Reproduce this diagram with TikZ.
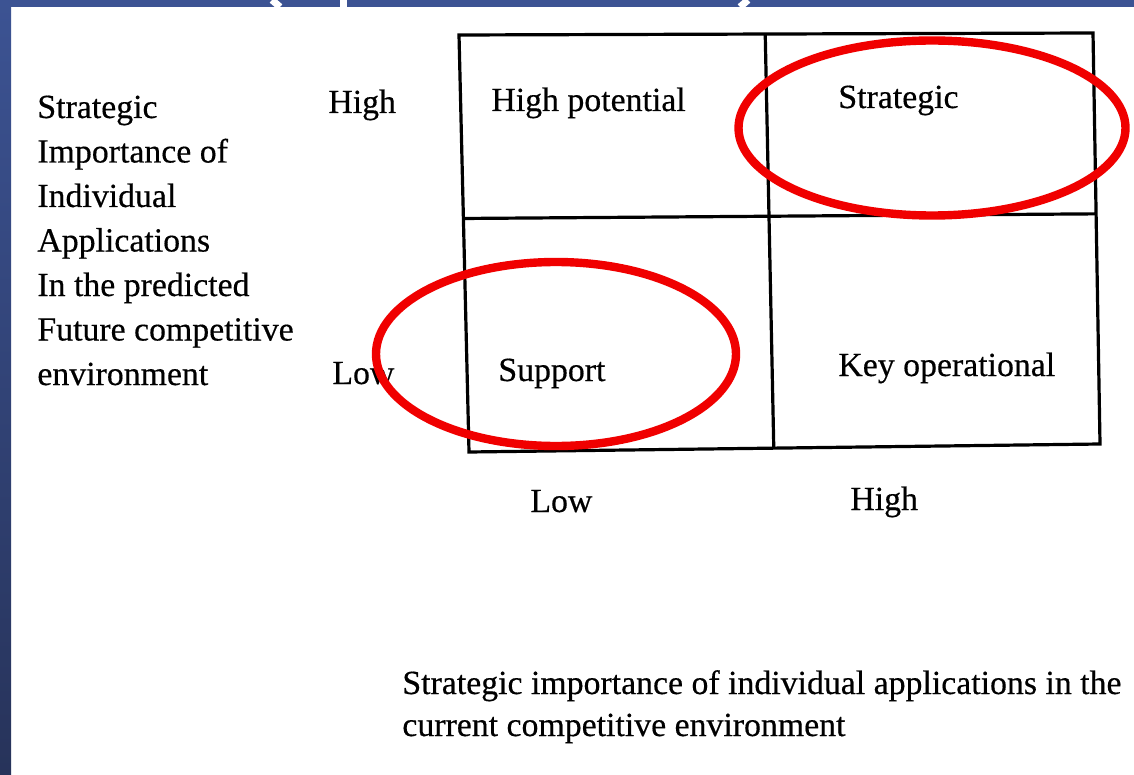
\documentclass[tikz,border=0pt]{standalone}
\usepackage{fontspec}
\setmainfont{Liberation Serif}[FakeBold=0.4]
\usepackage{tikz}
\usetikzlibrary{
    calc,
    positioning
}
\definecolor{slideblue}{RGB}{60,83,147}
\definecolor{slidedark}{RGB}{39,51,90}
\definecolor{ringred}{RGB}{240,0,0}

\begin{document}
\begin{tikzpicture}[
    x=0.5pt, y=-0.5pt,
    gridline/.style={line width=1.6pt, black, line join=miter},
    ring/.style={line width=4.2pt, draw=ringred},
    txt/.style={font=\fontsize{16.9}{21}\selectfont, inner sep=0pt, anchor=base west},
    frag/.style={white, line width=3.5pt}
]
\useasboundingbox (0,0) rectangle (1134,775);
\fill[white] (0,0) rectangle (1134,775);

% Slide frame
\shade[top color=slideblue, bottom color=slidedark] (0,0) rectangle (11,775);
\fill[slideblue] (0,0) rectangle (1134,7);

% Cut-off title
\draw[frag] (272,0) -- (280,7);
\draw[frag] (343,0) -- (343,7);
\draw[frag] (748,0) -- (740,7);

% Matrix corners
\coordinate (tl) at (459,35);
\coordinate (tr) at (1093,33);
\coordinate (br) at (1100,444);
\coordinate (bl) at (469,452);
\coordinate (tm) at ($(tl)!0.483!(tr)$);
\coordinate (bm) at ($(bl)!0.483!(br)$);
\coordinate (lm) at ($(tl)!0.44!(bl)$);
\coordinate (rm) at ($(tr)!0.44!(br)$);

% Matrix
\draw[gridline] (tl) -- (tr) -- (br) -- (bl) -- cycle;
\draw[gridline] (tm) -- (bm);
\draw[gridline] (lm) -- (rm);

% Cells
\node[txt] (highpot) at (491,111) {High potential};
\node[txt] (strat) at (838,108) {Strategic};
\node[txt] (support) at (498,381) {Support};
\node[txt] (keyop) at (838,376) {Key operational};

% Vertical axis
\foreach \word [count=\i] in {Strategic, Importance of, Individual, Applications, In the predicted, Future competitive, environment} {
    \node[txt] (ytitle-\i) at (37, {118+44.5*(\i-1)}) {\word};
}
\node[txt] (yhigh) at (328,113) {High};
\node[txt] (ylow) at (332,384) {Low};

% Horizontal axis
\node[txt] (xlow) at (530,512) {Low};
\node[txt] (xhigh) at (850,510) {High};
\node[txt] (xtitle-1) at (402,694) {Strategic importance of individual applications in the};
\node[txt] (xtitle-2) at (402,736) {current competitive environment};

% Highlights
\draw[ring] (932,128) ellipse [x radius=96.75pt, y radius=43.75pt];
\draw[ring] (556,354) ellipse [x radius=90pt, y radius=46pt];

\end{tikzpicture}
\end{document}
